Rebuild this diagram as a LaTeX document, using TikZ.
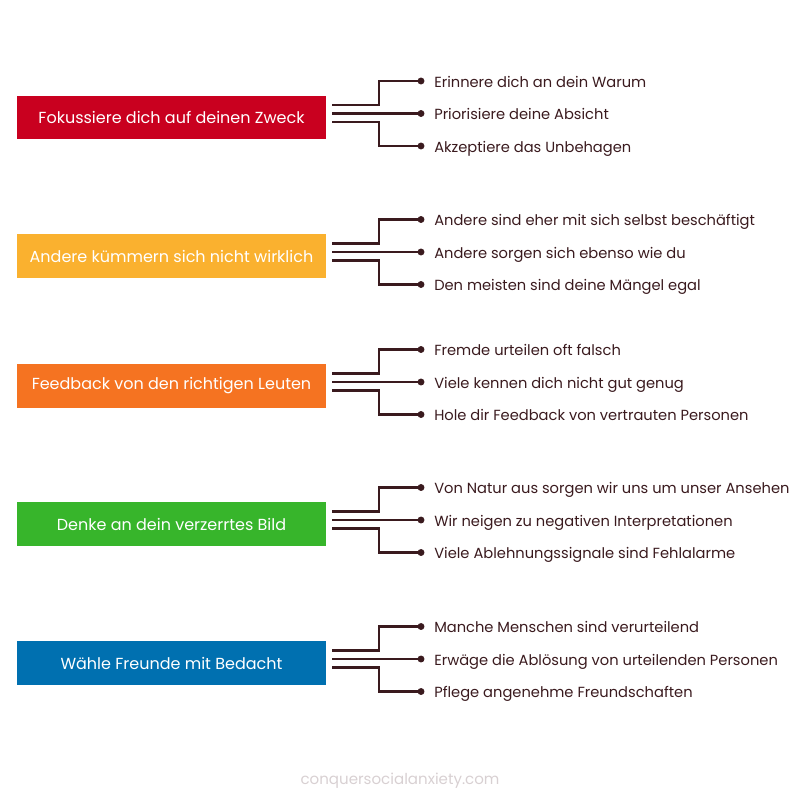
\documentclass[tikz,border=0pt]{standalone}
\usepackage{fontspec}
\setmainfont{Poppins}
\definecolor{cRed}{HTML}{C9001F}
\definecolor{cYel}{HTML}{FAB12F}
\definecolor{cOra}{HTML}{F57321}
\definecolor{cGre}{HTML}{37B52B}
\definecolor{cBlu}{HTML}{0070B0}
\definecolor{lineC}{HTML}{3A1A1E}
\definecolor{txtC}{HTML}{3A1A1E}
\definecolor{footC}{HTML}{D8D0D2}
\begin{document}
\begin{tikzpicture}[x=0.75pt,y=-0.75pt,
  catbox/.style={minimum width=231.75pt,minimum height=32.6pt,inner sep=0pt,text=white,font=\fontsize{12.0}{14}\selectfont},
  itemtxt/.style={anchor=base west,inner sep=0pt,text=txtC,font=\fontsize{11.0}{13}\selectfont},
  dotn/.style={circle,fill=lineC,inner sep=0pt,minimum size=5.2pt},
  conn/.style={draw=lineC,line width=1.6pt}]
\useasboundingbox (0,0) rectangle (800,800);
\foreach \n/\cy/\col/\title/\ia/\ib/\ic in {
 1/117.5/cRed/Fokussiere dich auf deinen Zweck/Erinnere dich an dein Warum/Priorisiere deine Absicht/Akzeptiere das Unbehagen,
 2/256/cYel/Andere kümmern sich nicht wirklich/Andere sind eher mit sich selbst beschäftigt/Andere sorgen sich ebenso wie du/Den meisten sind deine Mängel egal,
 3/386/cOra/Feedback von den richtigen Leuten/Fremde urteilen oft falsch/Viele kennen dich nicht gut genug/Hole dir Feedback von vertrauten Personen,
 4/524/cGre/Denke an dein verzerrtes Bild/Von Natur aus sorgen wir uns um unser Ansehen/Wir neigen zu negativen Interpretationen/Viele Ablehnungssignale sind Fehlalarme,
 5/663/cBlu/Wähle Freunde mit Bedacht/Manche Menschen sind verurteilend/Erwäge die Ablösung von urteilenden Personen/Pflege angenehme Freundschaften}
{
 \pgfmathsetmacro{\my}{\cy-4}
 \node[catbox,fill=\col] (box\n) at (171.5,\cy) {\title};
 \node[dotn] (da\n) at (421,\my-32.5) {};
 \node[dotn] (db\n) at (421,\my) {};
 \node[dotn] (dc\n) at (421,\my+32.5) {};
 \node[itemtxt] (ta\n) at (434,\my-32.5+6) {\ia};
 \node[itemtxt] (tb\n) at (434,\my+6) {\ib};
 \node[itemtxt] (tc\n) at (434,\my+32.5+6) {\ic};
 \coordinate (sa\n) at (332,\my-8.5);
 \coordinate (sb\n) at (332,\my);
 \coordinate (sc\n) at (332,\my+8.5);
 \draw[conn] (sa\n) -- (379,\my-8.5) |- (da\n.center);
 \draw[conn] (sb\n) -- (db\n.center);
 \draw[conn] (sc\n) -- (379,\my+8.5) |- (dc\n.center);
}
\node[text=footC,font=\fontsize{11.3}{13}\selectfont] (foot) at (400,781) {conquersocialanxiety.com};
\end{tikzpicture}
\end{document}
